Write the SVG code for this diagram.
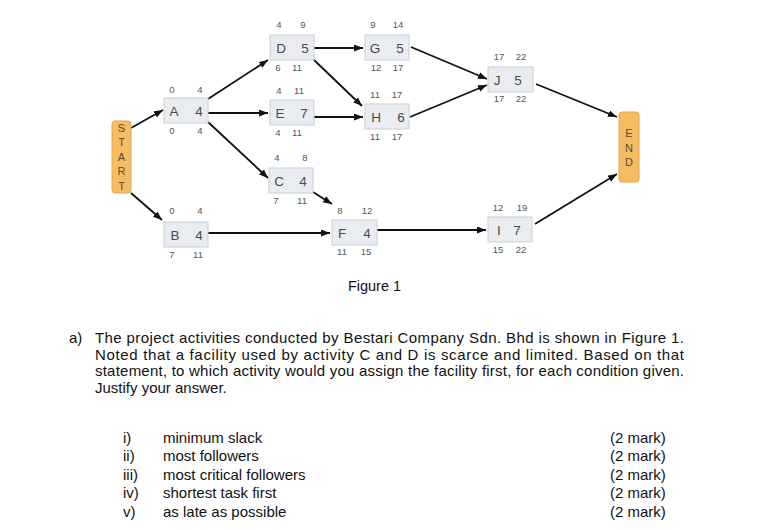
<svg xmlns="http://www.w3.org/2000/svg" width="761" height="530" viewBox="0 0 761 530">
<style>
.box{fill:#e9edf1;stroke:#c9ced3;stroke-width:1}
.term{fill:#f6bc62;stroke:#e3a74e;stroke-width:1}
.lbl{font-family:"Liberation Sans",Arial,sans-serif;font-size:13.5px;fill:#4a4a4a;text-anchor:middle}
.num{font-family:"Liberation Sans",Arial,sans-serif;font-size:9.5px;fill:#555;text-anchor:middle}
.tl{font-family:"Liberation Sans",Arial,sans-serif;font-size:11px;fill:#5a4a30;text-anchor:middle}
.txt{font-family:"Liberation Sans",Arial,sans-serif;font-size:15px;fill:#111}
.edge{stroke:#111;stroke-width:1.8;fill:none;marker-end:url(#ah)}
</style>
<defs>
<marker id="ah" markerUnits="userSpaceOnUse" markerWidth="10" markerHeight="8" refX="9" refY="3.5" orient="auto">
<path d="M0,0 L9,3.5 L0,7 z" fill="#111"/>
</marker>
</defs>
<rect width="761" height="530" fill="#fff"/>
<g id="connectors">
<line class="edge" x1="131" y1="128" x2="163" y2="110"/>
<line class="edge" x1="131" y1="193" x2="162" y2="220"/>
<line class="edge" x1="208" y1="99" x2="268" y2="60"/>
<line class="edge" x1="208" y1="113" x2="268" y2="113"/>
<line class="edge" x1="208" y1="122" x2="268" y2="178"/>
<line class="edge" x1="208" y1="233" x2="330" y2="233"/>
<line class="edge" x1="313" y1="48" x2="363" y2="48"/>
<line class="edge" x1="313" y1="59" x2="362" y2="106"/>
<line class="edge" x1="313" y1="117" x2="363" y2="117"/>
<line class="edge" x1="313" y1="192" x2="332" y2="204"/>
<line class="edge" x1="377" y1="230" x2="486" y2="230"/>
<line class="edge" x1="411" y1="47" x2="487" y2="79"/>
<line class="edge" x1="410" y1="117" x2="487" y2="85"/>
<line class="edge" x1="536" y1="84" x2="617" y2="117"/>
<line class="edge" x1="535" y1="224" x2="617" y2="174"/>
</g>
<g id="START">
<rect class="term" x="112" y="121" width="19" height="72" rx="3"/>
<text class="tl" x="121.5" y="132">S</text>
<text class="tl" x="121.5" y="146">T</text>
<text class="tl" x="121.5" y="161">A</text>
<text class="tl" x="121.5" y="175">R</text>
<text class="tl" x="121.5" y="190">T</text>
</g>
<g id="END">
<rect class="term" x="619" y="112" width="20" height="70" rx="3"/>
<text class="tl" x="629" y="137">E</text>
<text class="tl" x="629" y="152">N</text>
<text class="tl" x="629" y="166">D</text>
</g>
<g id="A">
<rect class="box" x="164" y="98" width="44" height="25"/>
<text class="lbl" x="174" y="115.5">A</text><text class="lbl" x="199" y="115.5">4</text>
<text class="num" x="172" y="93">0</text><text class="num" x="200" y="93">4</text>
<text class="num" x="172" y="134">0</text><text class="num" x="200" y="134">4</text>
</g>
<g id="B">
<rect class="box" x="164" y="222" width="44" height="25"/>
<text class="lbl" x="175" y="239.5">B</text><text class="lbl" x="199" y="239.5">4</text>
<text class="num" x="172" y="214">0</text><text class="num" x="200" y="214">4</text>
<text class="num" x="172" y="258">7</text><text class="num" x="198" y="258">11</text>
</g>
<g id="D">
<rect class="box" x="270" y="35" width="44" height="25"/>
<text class="lbl" x="281" y="52.5">D</text><text class="lbl" x="305" y="52.5">5</text>
<text class="num" x="279" y="28">4</text><text class="num" x="303" y="28">9</text>
<text class="num" x="278" y="71">6</text><text class="num" x="297" y="71">11</text>
</g>
<g id="E">
<rect class="box" x="270" y="100" width="44" height="25"/>
<text class="lbl" x="280" y="117.5">E</text><text class="lbl" x="304" y="117.5">7</text>
<text class="num" x="279" y="94">4</text><text class="num" x="299" y="94">11</text>
<text class="num" x="278" y="136">4</text><text class="num" x="297" y="136">11</text>
</g>
<g id="C">
<rect class="box" x="269" y="168" width="44" height="25"/>
<text class="lbl" x="279" y="185.5">C</text><text class="lbl" x="303" y="185.5">4</text>
<text class="num" x="277" y="161">4</text><text class="num" x="305" y="161">8</text>
<text class="num" x="276" y="204">7</text><text class="num" x="302" y="204">11</text>
</g>
<g id="G">
<rect class="box" x="365" y="35" width="44" height="25"/>
<text class="lbl" x="375" y="52.5">G</text><text class="lbl" x="400" y="52.5">5</text>
<text class="num" x="373" y="28">9</text><text class="num" x="398" y="28">14</text>
<text class="num" x="376" y="71">12</text><text class="num" x="398" y="71">17</text>
</g>
<g id="H">
<rect class="box" x="365" y="104" width="44" height="25"/>
<text class="lbl" x="376" y="121.5">H</text><text class="lbl" x="401" y="121.5">6</text>
<text class="num" x="375" y="98">11</text><text class="num" x="397" y="98">17</text>
<text class="num" x="375" y="140">11</text><text class="num" x="397" y="140">17</text>
</g>
<g id="J">
<rect class="box" x="488" y="67" width="45" height="25"/>
<text class="lbl" x="497" y="84.5">J</text><text class="lbl" x="518" y="84.5">5</text>
<text class="num" x="499" y="60">17</text><text class="num" x="521" y="60">22</text>
<text class="num" x="499" y="102">17</text><text class="num" x="521" y="102">22</text>
</g>
<g id="F">
<rect class="box" x="332" y="220" width="45" height="25"/>
<text class="lbl" x="342" y="237.5">F</text><text class="lbl" x="367" y="237.5">4</text>
<text class="num" x="340" y="214">8</text><text class="num" x="367" y="214">12</text>
<text class="num" x="342" y="255">11</text><text class="num" x="366" y="255">15</text>
</g>
<g id="I">
<rect class="box" x="488" y="217" width="44" height="25"/>
<text class="lbl" x="499" y="234.5">I</text><text class="lbl" x="517" y="234.5">7</text>
<text class="num" x="498" y="211">12</text><text class="num" x="522" y="211">19</text>
<text class="num" x="498" y="253">15</text><text class="num" x="521" y="253">22</text>
</g>
<text class="txt" x="374.5" y="291" text-anchor="middle" style="font-size:14.5px">Figure 1</text>
<g id="question">
<text class="txt" x="69" y="343">a)</text>
<text class="txt" x="95" y="343" textLength="589" lengthAdjust="spacing">The project activities conducted by Bestari Company Sdn. Bhd is shown in Figure 1.</text>
<text class="txt" x="95" y="360" textLength="589" lengthAdjust="spacing">Noted that a facility used by activity C and D is scarce and limited. Based on that</text>
<text class="txt" x="95" y="376" textLength="589" lengthAdjust="spacing">statement, to which activity would you assign the facility first, for each condition given.</text>
<text class="txt" x="95" y="393">Justify your answer.</text>
<text class="txt" x="123" y="443">i)</text><text class="txt" x="163" y="443">minimum slack</text><text class="txt" x="610" y="443">(2 mark)</text>
<text class="txt" x="123" y="461">ii)</text><text class="txt" x="163" y="461">most followers</text><text class="txt" x="610" y="461">(2 mark)</text>
<text class="txt" x="123" y="480">iii)</text><text class="txt" x="163" y="480">most critical followers</text><text class="txt" x="610" y="480">(2 mark)</text>
<text class="txt" x="123" y="498">iv)</text><text class="txt" x="163" y="498">shortest task first</text><text class="txt" x="610" y="498">(2 mark)</text>
<text class="txt" x="123" y="517">v)</text><text class="txt" x="163" y="517">as late as possible</text><text class="txt" x="610" y="517">(2 mark)</text>
</g>
</svg>
